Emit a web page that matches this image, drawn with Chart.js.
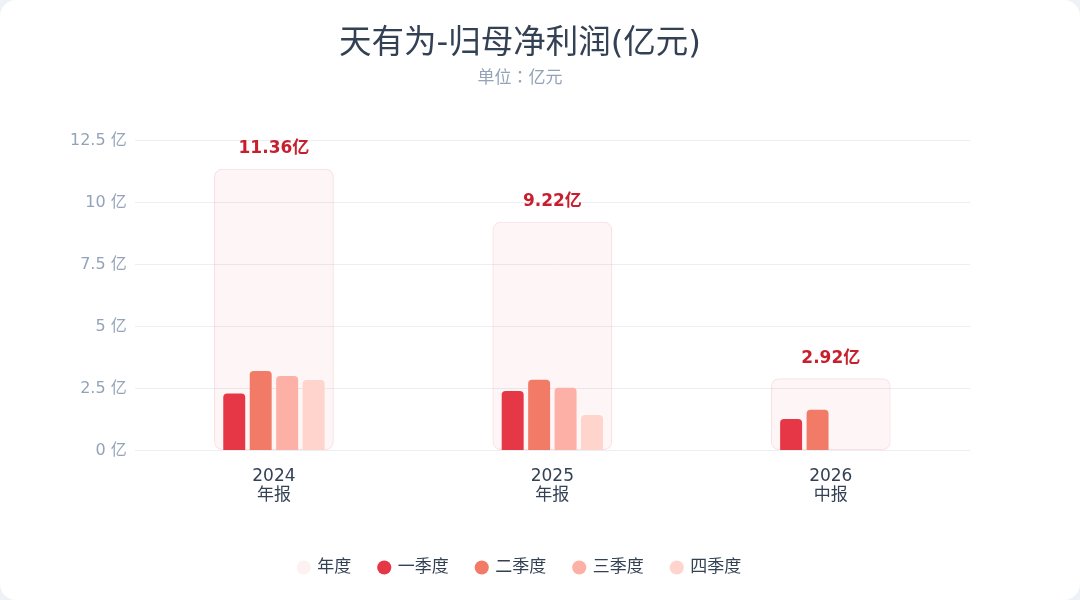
<!DOCTYPE html>
<html>
<head>
<meta charset="utf-8">
<script src="https://cdn.jsdelivr.net/npm/chart.js@4"></script>
<style>
  html, body { margin: 0; padding: 0; background: #eef1f5; }
  .card { width: 1080px; height: 600px; background: #fff; border-radius: 16px; overflow: hidden; }
  #c { display: block; }
</style>
</head>
<body>
<div class="card"><canvas id="c" width="1080" height="600"></canvas></div>
<script>
// dados do grafico
var periodos = [['2024', '年报'], ['2025', '年报'], ['2026', '中报']];
var anual = [11.36, 9.22, 2.92];
var q1 = [2.30, 2.40, 1.27];
var q2 = [3.21, 2.86, 1.65];
var q3 = [3.01, 2.53, null];
var q4 = [2.84, 1.43, null];
var nomesSerie = ['年度', '一季度', '二季度', '三季度', '四季度'];
var coresSerie = ['#fdf1f1', '#e63746', '#f27b68', '#fdb0a5', '#ffd4cd'];

Chart.defaults.font.family = "'DejaVu Sans', 'Noto Sans CJK SC', sans-serif";

// escreve o total em cima da barra anual
var rotuloAnual = {
  id: 'rotuloAnual',
  afterDatasetsDraw: function(chart) {
    var ctx = chart.ctx;
    var meta = chart.getDatasetMeta(0);
    ctx.save();
    ctx.fillStyle = '#c81f2e';
    ctx.font = "bold 17px 'DejaVu Sans', 'Noto Sans CJK SC', sans-serif";
    ctx.textAlign = 'center';
    ctx.textBaseline = 'middle';
    meta.data.forEach(function(el, i) {
      ctx.fillText(anual[i].toFixed(2) + '亿', el.x, el.y - 20);
    });
    ctx.restore();
  }
};

function serie(i, dados) {
  return {
    label: nomesSerie[i],
    data: dados,
    backgroundColor: coresSerie[i],
    borderRadius: { topLeft: 4, topRight: 4 },
    borderSkipped: 'bottom',
    categoryPercentage: 0.38,
    barPercentage: 0.83,
    order: 0
  };
}

var ctx = document.getElementById('c').getContext('2d');
new Chart(ctx, {
  type: 'bar',
  data: {
    labels: periodos,
    datasets: [{
      label: nomesSerie[0],
      data: anual,
      backgroundColor: 'rgba(215, 90, 110, 0.06)',
      borderColor: 'rgba(232, 54, 72, 0.16)',
      borderWidth: 1,
      borderRadius: 8,
      borderSkipped: false,
      grouped: false,
      categoryPercentage: 1,
      barPercentage: 0.43,
      order: 1
    },
    serie(1, q1), serie(2, q2), serie(3, q3), serie(4, q4)]
  },
  options: {
    responsive: false,
    animation: false,
    layout: { padding: { left: 70, right: 110, top: 10, bottom: 14 } },
    plugins: {
      title: {
        display: true,
        text: '天有为-归母净利润(亿元)',
        color: '#334155',
        font: { size: 32.5, weight: 'normal' },
        padding: { top: 15, bottom: 2 }
      },
      subtitle: {
        display: true,
        text: '单位：亿元',
        color: '#94a3b8',
        font: { size: 17, family: "'Noto Sans CJK TC', sans-serif" },
        padding: { bottom: 54 }
      },
      legend: {
        position: 'bottom',
        labels: {
          usePointStyle: true,
          pointStyle: 'circle',
          boxWidth: 10,
          boxHeight: 10,
          padding: 28,
          color: '#334155',
          font: { size: 17 },
          generateLabels: function(chart) {
            return nomesSerie.map(function(n, i) {
              return {
                text: n,
                fillStyle: coresSerie[i],
                strokeStyle: coresSerie[i],
                lineWidth: 0,
                pointStyle: 'circle',
                fontColor: '#334155',
                datasetIndex: i,
                hidden: false
              };
            });
          }
        }
      },
      tooltip: { enabled: false }
    },
    scales: {
      x: {
        grid: { display: false },
        border: { display: false },
        ticks: { color: '#334155', font: { size: 17, lineHeight: 1.1 }, padding: 9 },
        afterFit: function(s) { s.height += 17; }
      },
      y: {
        min: 0,
        max: 12.5,
        border: { display: false },
        grid: { color: '#eceef3', drawTicks: false },
        ticks: {
          stepSize: 2.5,
          color: '#94a3b8',
          font: { size: 16 },
          padding: 8,
          callback: function(v) { return v + ' 亿'; }
        },
        afterFit: function(s) { s.width -= 8; }
      }
    }
  },
  plugins: [rotuloAnual]
});
</script>
</body>
</html>
